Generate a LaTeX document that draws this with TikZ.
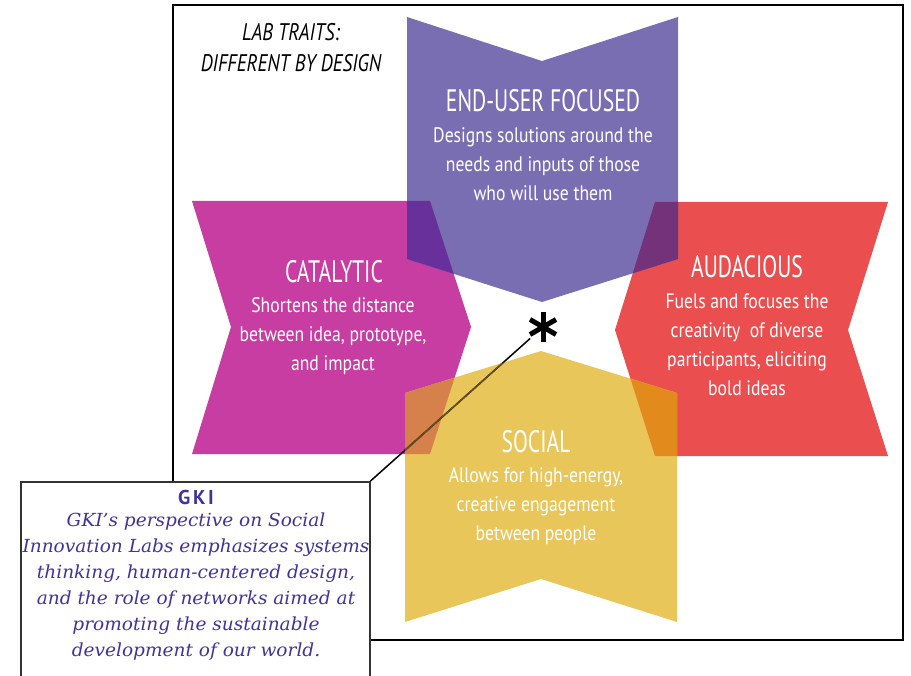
\documentclass[tikz,border=0pt]{standalone}
\usepackage{fontspec}
\setmainfont{PT Sans}
\newfontfamily\condfont[FakeStretch=0.7]{PT Sans}
\newfontfamily\blurbfont[FakeStretch=0.84]{PT Sans}
\newfontfamily\labfont[FakeStretch=0.8]{PT Sans}
\newfontfamily\gkifont[LetterSpace=14]{PT Sans}
\newfontfamily\slabfont[FakeStretch=1.03]{DejaVu Serif}
\usetikzlibrary{positioning}

\definecolor{usercol}{HTML}{7A6EB3}
\definecolor{catcol}{HTML}{C83DA2}
\definecolor{audcol}{HTML}{EA4E4F}
\definecolor{soccol}{HTML}{E9C65A}
\definecolor{catusercol}{HTML}{68309A}
\definecolor{audusercol}{HTML}{733279}
\definecolor{catsoccol}{HTML}{D6804C}
\definecolor{audsoccol}{HTML}{E38A1D}
\definecolor{gkicol}{HTML}{40349B}
\definecolor{linkdim}{HTML}{665020}

\newcommand{\usershape}{(407,17) -- (542,61) -- (678,17) -- (678,259) -- (542,302) -- (407,259) -- cycle}
\newcommand{\catshape}{(192,201) -- (430,201) -- (471,327) -- (430,454) -- (192,454) -- (231,327) -- cycle}
\newcommand{\audshape}{(655,202) -- (888,202) -- (848,330) -- (888,456) -- (655,456) -- (615,330) -- cycle}
\newcommand{\socshape}{(405,393) -- (541,351) -- (677,393) -- (677,622) -- (541,579) -- (405,622) -- cycle}

\tikzset{
  traithead/.style={text=white, inner sep=0pt, font=\condfont\fontsize{31}{31}\selectfont},
  traittext/.style={text=white, inner sep=0pt, align=center, font=\blurbfont\fontsize{21}{29}\selectfont},
  labtitle/.style={inner sep=0pt, align=center, font=\labfont\itshape\fontsize{24}{31}\selectfont},
  gkibox/.style={draw=black!80, line width=1.5pt, fill=white, minimum width=349pt, minimum height=220pt, inner sep=0pt},
  gkihead/.style={text=gkicol, inner sep=0pt, font=\gkifont\bfseries\fontsize{20}{20}\selectfont},
  gkitext/.style={text=gkicol, inner sep=0pt, align=center, font=\slabfont\itshape\fontsize{18}{26}\selectfont},
  link/.style={draw=black, line width=1.5pt},
  starmark/.style={circle, minimum size=34pt, inner sep=0pt,
    path picture={
      \foreach \a in {90,30,150}{
        \draw[line width=5pt] ([shift={(\a:15pt)}]path picture bounding box.center) -- ([shift={(\a+180:15pt)}]path picture bounding box.center);
      }
    }}
}

\begin{document}
\begin{tikzpicture}[x=1pt, y=-1pt]
  \useasboundingbox (0,0) rectangle (911,676);
  \clip (0,0) rectangle (911,676);

  % frame and note box
  \draw[line width=2pt] (173,5) rectangle (903,640);
  \node[gkibox, anchor=north west] (gki) at (20,481) {};

  % the four traits
  \fill[catcol] \catshape;
  \fill[audcol] \audshape;
  \fill[usercol] \usershape;
  \fill[soccol] \socshape;

  % overlaps
  \begin{scope}
    \clip \catshape;
    \fill[catusercol] \usershape;
    \fill[catsoccol] \socshape;
  \end{scope}
  \begin{scope}
    \clip \audshape;
    \fill[audusercol] \usershape;
    \fill[audsoccol] \socshape;
  \end{scope}

  \node[starmark] (star) at (543,327) {};
  \draw[link] (gki.north east) -- (star);
  \begin{scope}
    \clip \socshape;
    \draw[link, draw=linkdim] (gki.north east) -- (star);
  \end{scope}

  \node[labtitle] (lab) at (291,48) {LAB TRAITS:\\DIFFERENT BY DESIGN};

  \node[traithead] (userhead) at (543,101) {END-USER FOCUSED};
  \node[traittext] (usertext) at (543,164) {Designs solutions around the\\needs and inputs of those\\who will use them};

  \node[traithead] (cathead) at (334,272) {CATALYTIC};
  \node[traittext] (cattext) at (333,336) {Shortens the distance\\between idea, prototype,\\and impact};

  \node[traithead] (audhead) at (747,267) {AUDACIOUS};
  \node[traittext] (audtext) at (747,345) {Fuels and focuses the\\creativity~ of diverse\\participants, eliciting\\bold ideas};

  \node[traithead] (sochead) at (536,442) {SOCIAL};
  \node[traittext] (soctext) at (536,506) {Allows for high-energy,\\creative engagement\\between people};

  \node[gkihead] (gkititle) at (196,497) {GKI};
  \node[gkitext] (gkibody) at (196,587) {GKI’s perspective on Social\\Innovation Labs emphasizes systems\\thinking, human-centered design,\\and the role of networks aimed at\\promoting the sustainable\\development of our world.};
\end{tikzpicture}
\end{document}
